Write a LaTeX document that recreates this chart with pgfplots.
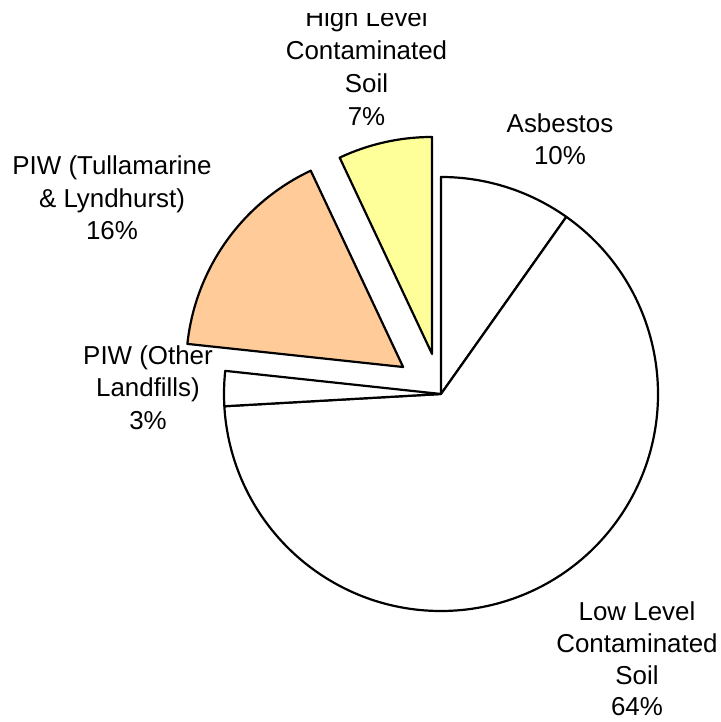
\documentclass[border=0pt]{standalone}
\usepackage{pgfplots}
\pgfplotsset{compat=1.18}
\usepackage{fontspec}
\setmainfont{Liberation Sans}
\definecolor{tull}{HTML}{FFCC99}
\definecolor{high}{HTML}{FFFF99}
% shares (percent), clockwise from 12 o'clock:
% Asbestos 9.8, Low Level 64.3, PIW Other 2.6, PIW Tullamarine 16.3, High Level 7.0
\newcommand{\lab}[3]{\node[anchor=base,inner sep=0pt,font=\fontsize{26}{31}\selectfont] at (axis cs:#1,#2) {#3};}
\begin{document}
\begin{tikzpicture}
\begin{axis}[name=ax, at={(0,0)}, anchor=south west,
  x=1bp, y=1bp, xmin=0, xmax=721, ymin=0, ymax=722,
  hide axis, clip=false]
% centre (441,328), radius 217
% Asbestos 9.8% : 90 -> 54.72
\filldraw[line width=2.2bp, fill=white, line join=round] (axis cs:441,328) -- ++(90:217bp) arc[start angle=90, end angle=54.72, radius=217bp] -- cycle;
% Low Level 64.3% : 54.72 -> -176.76
\filldraw[line width=2.2bp, fill=white, line join=round] (axis cs:441,328) -- ++(54.72:217bp) arc[start angle=54.72, end angle=-176.76, radius=217bp] -- cycle;
% PIW Other 2.6% : -176.76 -> -186.12
\filldraw[line width=2.2bp, fill=white, line join=round] (axis cs:441,328) -- ++(-176.76:217bp) arc[start angle=-176.76, end angle=-186.12, radius=217bp] -- cycle;
% PIW Tullamarine 16.3% : -186.12 -> -244.8, exploded 46.5 along 144.54
\filldraw[line width=2.2bp, fill=tull, line join=round] (axis cs:441,328) ++(144.54:46.5bp) -- ++(-186.12:217bp) arc[start angle=-186.12, end angle=-244.8, radius=217bp] -- cycle;
% High Level 7.0% : -244.8 -> -270, exploded 41 along 102.6
\filldraw[line width=2.2bp, fill=high, line join=round] (axis cs:441,328) ++(102.6:41bp) -- ++(-244.8:217bp) arc[start angle=-244.8, end angle=-270, radius=217bp] -- cycle;
% labels
\lab{366.5}{695}{High Level}
\lab{366.5}{662}{Contaminated}
\lab{366.5}{629}{Soil}
\lab{366.5}{596}{7\%}
\fill[white] (axis cs:250,709) rectangle (axis cs:480,740);
\lab{560}{589}{Asbestos}
\lab{560}{557}{10\%}
\lab{112}{547}{PIW (Tullamarine}
\lab{112}{514}{\& Lyndhurst)}
\lab{112}{482}{16\%}
\lab{148}{357}{PIW (Other}
\lab{148}{325}{Landfills)}
\lab{148}{292}{3\%}
\lab{637}{101}{Low Level}
\lab{637}{69}{Contaminated}
\lab{637}{37}{Soil}
\lab{637}{6}{64\%}
\end{axis}
\pgfresetboundingbox
\path (ax.south west) rectangle (ax.north east);
\end{tikzpicture}
\end{document}
